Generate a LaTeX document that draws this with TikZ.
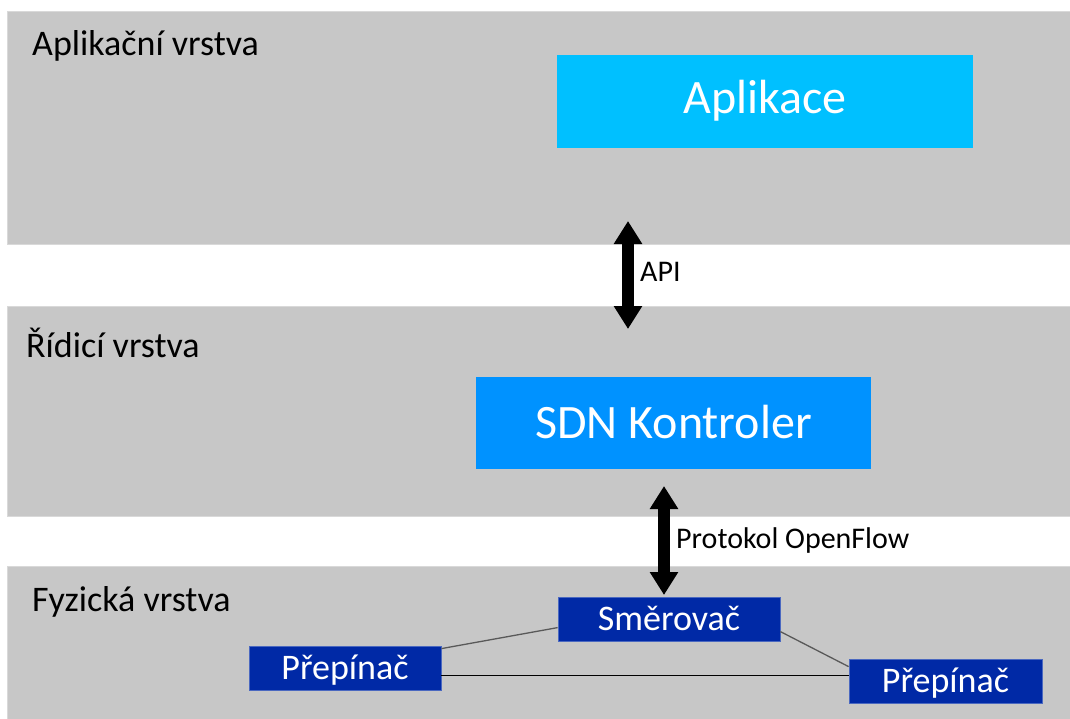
\documentclass[tikz,border=0pt]{standalone}
\usepackage{fontspec}
\setmainfont{Carlito}
\usetikzlibrary{arrows.meta}
\definecolor{bandgray}{HTML}{C7C7C7}
\definecolor{bandedge}{HTML}{D9D9D9}
\definecolor{aplblue}{HTML}{00C0FF}
\definecolor{sdnblue}{HTML}{0092FF}
\definecolor{devblue}{HTML}{0029A6}
\definecolor{devedge}{HTML}{4A68C0}
\definecolor{linkgray}{HTML}{595959}
\begin{document}
\begin{tikzpicture}[x=1pt,y=-1pt,
  band/.style={fill=bandgray,draw=bandedge,line width=0.8pt},
  layerlabel/.style={anchor=base west,inner sep=0pt,font=\fontsize{36}{40}\selectfont,text=black},
  bigbox/.style={inner sep=0pt,text=white,font=\fontsize{48}{56}\selectfont,text height=31pt,text depth=0pt},
  devbox/.style={inner sep=0pt,text=white,fill=devblue,draw=devedge,line width=0.8pt,
    font=\fontsize{36}{40}\selectfont,text height=23pt,text depth=0pt,minimum height=44pt},
  bigarrow/.style={line width=11.5pt,{Triangle[width=27pt,length=23pt]}-{Triangle[width=27pt,length=23pt]}},
  arrlabel/.style={anchor=base west,inner sep=0pt,font=\fontsize{30}{34}\selectfont,text=black},
  link/.style={draw=linkgray,line width=1.3pt},
  hlink/.style={draw=black,line width=1.2pt}]
\useasboundingbox (0,0) rectangle (1070,718);
% layers
\fill[white] (0,0) rectangle (1070,718);
\path[band] (7,11) rectangle (1072,244);
\path[band] (7,306) rectangle (1072,516);
\path[band] (7,566) rectangle (1072,720);
\node[layerlabel] (l1) at (32,55) {Aplikační vrstva};
\node[layerlabel] (l2) at (26,357) {Řídicí vrstva};
\node[layerlabel] (l3) at (32,611) {Fyzická vrstva};
% boxes
\node[bigbox,fill=aplblue,minimum width=416pt,minimum height=93pt,text depth=8pt] (apl) at (765,101.5) {Aplikace};
\node[bigbox,fill=sdnblue,minimum width=395pt,minimum height=92pt] (sdn) at (673.5,423) {SDN Kontroler};
\node[devbox,minimum width=222pt] (sm) at (669,619) {Směrovač};
\node[devbox,minimum width=192pt] (lp) at (345,668) {Přepínač};
\node[devbox,minimum width=193pt] (rp) at (945.5,681) {Přepínač};
% arrows
\coordinate (apiTop) at (628,221);
\coordinate (apiBot) at (628,329);
\draw[bigarrow] (apiTop) -- (apiBot);
\node[arrlabel] (api) at (640,281) {API};
\coordinate (ofTop) at (664,486);
\coordinate (ofBot) at (664,595);
\draw[bigarrow] (ofTop) -- (ofBot);
\node[arrlabel] (of) at (676,548) {Protokol OpenFlow};
% links
\draw[link] ([yshift=-3pt]lp.north east) -- ([yshift=-31pt]sm.north west);
\draw[link] ([yshift=-35pt]sm.north east) -- ([yshift=-8pt]rp.north west);
\draw[hlink] ([yshift=-30pt]lp.north east) -- ([yshift=-17pt]rp.north west);
\end{tikzpicture}
\end{document}
